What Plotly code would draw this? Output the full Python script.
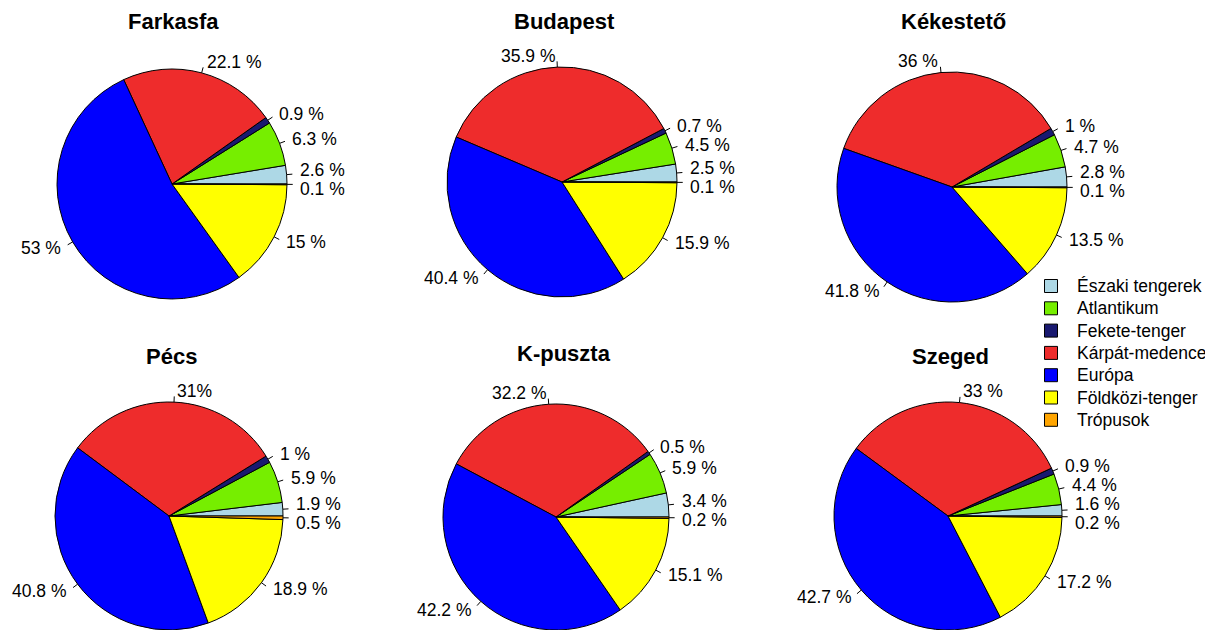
import math
import plotly.graph_objects as go

# kategóriák és színek (R pie, óramutatóval ellentétesen 3 órától)
categories = ["Északi tengerek", "Atlantikum", "Fekete-tenger", "Kárpát-medence",
              "Európa", "Földközi-tenger", "Trópusok"]
colors = ["#ADD8E6", "#76EE00", "#191970", "#EE2C2C", "#0000FF", "#FFFF00", "#FFA500"]

stations = ["Farkasfa", "Budapest", "Kékestető", "Pécs", "K-puszta", "Szeged"]

farkasfa = [2.6, 6.3, 0.9, 22.1, 53, 15, 0.1]
budapest = [2.5, 4.5, 0.7, 35.9, 40.4, 15.9, 0.1]
kekesteto = [2.8, 4.7, 1, 36, 41.8, 13.5, 0.1]
pecs = [1.9, 5.9, 1, 31, 40.8, 18.9, 0.5]
kpuszta = [3.4, 5.9, 0.5, 32.2, 42.2, 15.1, 0.2]
szeged = [1.6, 4.4, 0.9, 33, 42.7, 17.2, 0.2]

values = [farkasfa, budapest, kekesteto, pecs, kpuszta, szeged]

# felirat-kivétel (az eredetin "31%" szóköz nélkül)
label_override = {("Pécs", 3): "31%"}

# elrendezés: oldal-pixelben megadva, a böngésző 8 px-es body margója levonva
OFF = 8
PAGE_W, PAGE_H = 1213, 630
W, H = PAGE_W - OFF, PAGE_H - OFF
R = 115
centers = [(172, 184), (562, 182), (952, 187), (169, 517), (556, 519), (948, 517)]
title_pos = [(173, 22), (564, 21), (953, 22), (171, 356), (564, 353), (950, 356)]
FONT = "Arial, Liberation Sans, sans-serif"
LABEL_SIZE = 17.5
GAP = 19
LEG_X, LEG_Y, LEG_STEP, LEG_BOX = 1051, 286, 22.3, 13


def px(x):
    return (x - OFF) / W


def py(y):
    return 1 - (y - OFF) / H


fig = go.Figure()
annotations = []
shapes = []

for k, (name, vals) in enumerate(zip(stations, values)):
    cx, cy = centers[k]
    top = max(cy - R, OFF)
    bottom = min(cy + R, PAGE_H)
    ecy = (top + bottom) / 2
    er = min(2 * R, bottom - top) / 2
    total = sum(vals)

    fig.add_trace(go.Pie(
        labels=categories, values=vals, name=name,
        marker=dict(colors=colors, line=dict(color="black", width=1)),
        sort=False, direction="counterclockwise",
        rotation=90 - 360 * vals[0] / total,
        textinfo="none", showlegend=False,
        domain=dict(x=[px(cx - R), px(cx + R)], y=[py(bottom), py(top)]),
    ))

    cum = 0
    labs = []
    for i, v in enumerate(vals):
        mid = (cum + v / 2) / total * 2 * math.pi
        cum += v
        c, s = math.cos(mid), math.sin(mid)
        shapes.append(dict(
            type="line", xref="paper", yref="paper",
            x0=px(cx + er * c), y0=py(ecy - er * s),
            x1=px(cx + 1.05 * er * c), y1=py(ecy - 1.05 * er * s),
            line=dict(color="black", width=1),
        ))
        text = label_override.get((name, i), f"{v:g} %")
        labs.append(dict(x=cx + 1.1 * er * c, y=ecy - 1.1 * er * s,
                         right=c >= 0, text=text))

    # egymásra lógó feliratok széttolása
    for side in (True, False):
        group = sorted([l for l in labs if l["right"] == side], key=lambda l: l["y"])
        for _ in range(60):
            for a, b in zip(group, group[1:]):
                d = b["y"] - a["y"]
                if d < GAP:
                    push = (GAP - d) / 2
                    a["y"] -= push
                    b["y"] += push

    for l in labs:
        annotations.append(dict(
            x=px(l["x"]), y=py(l["y"]), xref="paper", yref="paper",
            text=l["text"], showarrow=False,
            xanchor="left" if l["right"] else "right", yanchor="middle",
            font=dict(family=FONT, size=LABEL_SIZE, color="black"),
        ))

    tx, ty = title_pos[k]
    annotations.append(dict(
        x=px(tx), y=py(ty), xref="paper", yref="paper",
        text=f"<b>{name}</b>", showarrow=False, xanchor="center", yanchor="middle",
        font=dict(family=FONT, size=22, color="black"),
    ))

# jelmagyarázat (R-stílusú, sűrű sorokkal)
for i, (cat, col) in enumerate(zip(categories, colors)):
    yc = LEG_Y + i * LEG_STEP
    shapes.append(dict(
        type="rect", xref="paper", yref="paper",
        x0=px(LEG_X - LEG_BOX / 2), x1=px(LEG_X + LEG_BOX / 2),
        y0=py(yc + LEG_BOX / 2), y1=py(yc - LEG_BOX / 2),
        fillcolor=col, line=dict(color="black", width=1),
    ))
    annotations.append(dict(
        x=px(LEG_X + 24), y=py(yc), xref="paper", yref="paper",
        text=cat, showarrow=False, xanchor="left", yanchor="middle",
        font=dict(family=FONT, size=LABEL_SIZE, color="black"),
    ))

fig.update_layout(
    width=W, height=H,
    margin=dict(l=0, r=0, t=0, b=0, autoexpand=False),
    paper_bgcolor="white", plot_bgcolor="white",
    font=dict(family=FONT, color="black"),
    annotations=annotations, shapes=shapes,
    showlegend=False,
)

fig.write_html("out.html")
